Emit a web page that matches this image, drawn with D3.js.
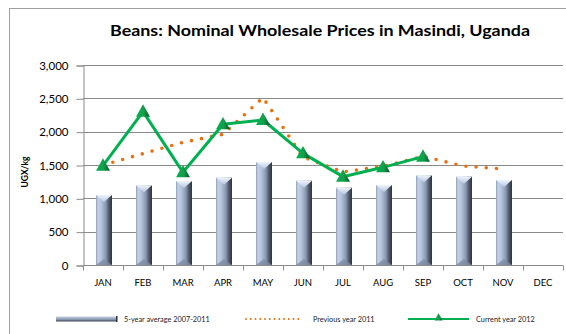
<!DOCTYPE html>
<html>
<head>
<meta charset="utf-8">
<script src="https://cdn.jsdelivr.net/npm/d3@7"></script>
<style>
  html, body { margin: 0; padding: 0; background: #ffffff; }
  svg { display: block; font-family: Lato, "Liberation Sans", sans-serif; }
</style>
</head>
<body>
<svg id="chart" width="566" height="334"></svg>
<script>
// Monthly categories and series (UGX per kg)
const months = ["JAN","FEB","MAR","APR","MAY","JUN","JUL","AUG","SEP","OCT","NOV","DEC"];
const avg5yr   = [1050, 1195, 1260, 1310, 1545, 1265, 1160, 1200, 1345, 1325, 1275, null];
const prev2011 = [1500, 1670, 1840, 1960, 2510, 1620, 1395, 1480, 1630, 1485, 1440, null];
const curr2012 = [1490, 2300, 1390, 2110, 2175, 1675, 1325, 1465, 1625, null, null, null];
const yTicks = [0, 500, 1000, 1500, 2000, 2500, 3000];
const seriesNames = ["5-year average 2007-2011", "Previous year 2011", "Current year 2012"];

const svg = d3.select("#chart");
const defs = svg.append("defs");

// Bar body gradient: light face on the left, dark edge on the right
const barGrad = defs.append("linearGradient").attr("id", "barGrad")
  .attr("x1", "0%").attr("x2", "100%").attr("y1", "0%").attr("y2", "0%");
[["0%", "#8e9db4"], ["12%", "#c4d1e6"], ["35%", "#b3c1d8"], ["62%", "#8796ad"],
 ["80%", "#4f5a6b"], ["100%", "#2c333e"]].forEach(([o, c]) =>
  barGrad.append("stop").attr("offset", o).attr("stop-color", c));

const capGrad = defs.append("linearGradient").attr("id", "capGrad")
  .attr("x1", "0%").attr("x2", "0%").attr("y1", "0%").attr("y2", "100%");
[["0%", "#eef3fb"], ["100%", "#b9c8df"]].forEach(([o, c]) =>
  capGrad.append("stop").attr("offset", o).attr("stop-color", c));

const legGrad = defs.append("linearGradient").attr("id", "legGrad")
  .attr("x1", "0%").attr("x2", "0%").attr("y1", "0%").attr("y2", "100%");
[["0%", "#c4d1e6"], ["60%", "#8796ad"], ["100%", "#3c4452"]].forEach(([o, c]) =>
  legGrad.append("stop").attr("offset", o).attr("stop-color", c));

const triGrad = defs.append("linearGradient").attr("id", "triGrad")
  .attr("x1", "0%").attr("x2", "100%").attr("y1", "0%").attr("y2", "0%");
[["0%", "#00b050"], ["55%", "#13a04a"], ["100%", "#05502a"]].forEach(([o, c]) =>
  triGrad.append("stop").attr("offset", o).attr("stop-color", c));

// Outer chart frame
svg.append("rect").attr("x", 9.5).attr("y", 8.5).attr("width", 600).attr("height", 360)
  .attr("fill", "#ffffff").attr("stroke", "#a0a0a0").attr("stroke-width", 1);

// Title
svg.append("text").attr("x", 320).attr("y", 36).attr("text-anchor", "middle")
  .attr("font-size", 15).attr("font-weight", "bold").attr("fill", "#000")
  .attr("textLength", 420).attr("lengthAdjust", "spacingAndGlyphs")
  .text("Beans: Nominal Wholesale Prices in Masindi, Uganda");

// Scales
const x = d3.scaleBand().domain(months).range([83, 563]).padding(0);
const y = d3.scaleLinear().domain([0, 3000]).range([265, 65]);
const cx = m => x(m) + x.bandwidth() / 2;

// Horizontal gridlines
svg.append("g").selectAll("line").data(yTicks.filter(t => t > 0)).join("line")
  .attr("x1", 83).attr("x2", 563)
  .attr("y1", d => Math.round(y(d)) + 0.5).attr("y2", d => Math.round(y(d)) + 0.5)
  .attr("stroke", "#8a8a8a").attr("stroke-width", 1.2);

// Y axis
const yAxis = svg.append("g").attr("transform", "translate(83.5,0.5)")
  .call(d3.axisLeft(y).tickValues(yTicks).tickFormat(d3.format(",")).tickSize(7).tickPadding(8));
yAxis.select(".domain").attr("stroke", "#8a8a8a");
yAxis.selectAll(".tick line").attr("stroke", "#8a8a8a");
yAxis.selectAll(".tick text").attr("font-size", 11.5).attr("fill", "#000")
  .attr("font-family", "Lato, 'Liberation Sans', sans-serif");

// Y axis title
svg.append("text").attr("transform", "translate(28,172) rotate(-90)")
  .attr("text-anchor", "middle").attr("font-size", 8.5).attr("font-weight", "bold")
  .attr("fill", "#000").text("UGX/kg");

// Bars with bevelled caps
const barW = 16;
const barData = months.map((m, i) => ({ m, v: avg5yr[i] })).filter(d => d.v != null);
const bars = svg.append("g").selectAll("g").data(barData).join("g");
bars.append("rect")
  .attr("x", d => cx(d.m) + 1 - barW / 2).attr("y", d => y(d.v))
  .attr("width", barW).attr("height", d => y(0) - y(d.v))
  .attr("fill", "url(#barGrad)");
bars.append("path")
  .attr("d", d => {
    const x0 = cx(d.m) + 1 - barW / 2, x1 = x0 + barW, t = y(d.v), c = x0 + barW / 2;
    return `M${x0},${t}L${x1},${t}L${c},${t + 7}Z`;
  })
  .attr("fill", "url(#capGrad)");
bars.append("path")
  .attr("d", d => {
    const x0 = cx(d.m) + 1 - barW / 2, x1 = x0 + barW, b = y(0), c = x0 + barW / 2;
    return `M${x0},${b}L${x1},${b}L${c},${b - 6}Z`;
  })
  .attr("fill", "#7d8ba1").attr("opacity", 0.8);

// X axis
const xAxis = svg.append("g").attr("transform", "translate(0,265.5)");
xAxis.append("line").attr("x1", 83).attr("x2", 563).attr("stroke", "#8a8a8a").attr("stroke-width", 1.2);
xAxis.selectAll(".tk").data(months.concat(["_end"])).join("line").attr("class", "tk")
  .attr("x1", (d, i) => 83 + i * x.bandwidth() + 0.5).attr("x2", (d, i) => 83 + i * x.bandwidth() + 0.5)
  .attr("y1", 0).attr("y2", 5).attr("stroke", "#8a8a8a");
xAxis.selectAll("text").data(months).join("text")
  .attr("x", d => cx(d)).attr("y", 20).attr("text-anchor", "middle")
  .attr("font-size", 9.5).attr("fill", "#000").text(d => d);

// Previous year: dotted orange line
const prevPts = months.map((m, i) => ({ m, v: prev2011[i] })).filter(d => d.v != null);
const line = d3.line().x(d => cx(d.m)).y(d => y(d.v));
svg.append("path").attr("d", line(prevPts))
  .attr("fill", "none").attr("stroke", "#e8700f").attr("stroke-width", 3.6)
  .attr("stroke-linecap", "round").attr("stroke-dasharray", "0 10.2");

// Current year: solid green line with triangle markers
const currPts = months.map((m, i) => ({ m, v: curr2012[i] })).filter(d => d.v != null);
svg.append("path").attr("d", line(currPts))
  .attr("fill", "none").attr("stroke", "#00b050").attr("stroke-width", 3)
  .attr("stroke-linejoin", "round");
const tri = (px, py, s) => `M${px},${py - s * 0.62}L${px + s * 0.58},${py + s * 0.42}L${px - s * 0.58},${py + s * 0.42}Z`;
svg.append("g").selectAll("path").data(currPts).join("path")
  .attr("d", d => tri(cx(d.m), y(d.v), 12))
  .attr("fill", "url(#triGrad)");

// Legend
const ly = 319;
const leg = svg.append("g");
leg.append("rect").attr("x", 56).attr("y", ly - 2.5).attr("width", 61).attr("height", 5)
  .attr("fill", "url(#legGrad)");
leg.append("rect").attr("x", 116).attr("y", ly - 3).attr("width", 1.5).attr("height", 6).attr("fill", "#2c333e");
leg.append("text").attr("x", 124).attr("y", ly + 2.6).attr("font-size", 7.3).attr("fill", "#222")
  .text(seriesNames[0]);
leg.append("line").attr("x1", 246).attr("x2", 303).attr("y1", ly).attr("y2", ly)
  .attr("stroke", "#e8700f").attr("stroke-width", 2).attr("stroke-linecap", "round")
  .attr("stroke-dasharray", "0 4.75");
leg.append("text").attr("x", 313).attr("y", ly + 2.6).attr("font-size", 7.3).attr("fill", "#222")
  .text(seriesNames[1]);
leg.append("line").attr("x1", 408).attr("x2", 469).attr("y1", ly).attr("y2", ly)
  .attr("stroke", "#00b050").attr("stroke-width", 2.2);
leg.append("path").attr("d", tri(438.5, ly - 1.5, 7)).attr("fill", "url(#triGrad)");
leg.append("text").attr("x", 476).attr("y", ly + 2.6).attr("font-size", 7.3).attr("fill", "#222")
  .text(seriesNames[2]);
</script>
</body>
</html>
